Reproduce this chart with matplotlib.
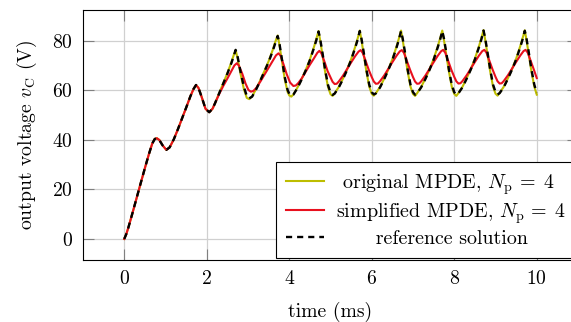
import matplotlib
matplotlib.use("Agg")
import matplotlib.pyplot as plt

# ---------------- data ----------------
x_ticks = [0, 2, 4, 6, 8, 10]
y_ticks = [0, 20, 40, 60, 80]

label_orig = r" original MPDE, $N_\mathrm{p}\,=\;4$"
label_simp = r"simplified MPDE, $N_\mathrm{p}\,=\;4$"
label_ref = "      reference solution"

# time points (ms) of reference solution and original MPDE
t_ref = [
    0.00, 0.05, 0.10, 0.20, 0.30, 0.40, 0.50, 0.60, 0.68, 0.74, 0.79, 0.85, 0.93,
    1.02, 1.10, 1.20, 1.30, 1.40, 1.50, 1.60, 1.68, 1.74, 1.80, 1.88, 1.97,
    2.06, 2.14, 2.20, 2.30, 2.40, 2.50, 2.60, 2.66, 2.70, 2.75, 2.82, 2.90, 2.97,
    3.03, 3.10, 3.20, 3.30, 3.40, 3.50, 3.60, 3.66, 3.72, 3.76, 3.82, 3.89, 3.96,
    4.00, 4.05, 4.10, 4.20, 4.30, 4.40, 4.50, 4.60, 4.66, 4.71, 4.75, 4.80, 4.87, 4.94,
    5.00, 5.05, 5.10, 5.20, 5.30, 5.40, 5.50, 5.60, 5.66, 5.71, 5.75, 5.80, 5.87, 5.94,
    6.00, 6.05, 6.10, 6.20, 6.30, 6.40, 6.50, 6.60, 6.66, 6.71, 6.75, 6.80, 6.87, 6.94,
    7.00, 7.05, 7.10, 7.20, 7.30, 7.40, 7.50, 7.60, 7.66, 7.71, 7.75, 7.80, 7.87, 7.94,
    8.00, 8.05, 8.10, 8.20, 8.30, 8.40, 8.50, 8.60, 8.66, 8.71, 8.75, 8.80, 8.87, 8.94,
    9.00, 9.05, 9.10, 9.20, 9.30, 9.40, 9.50, 9.60, 9.66, 9.71, 9.75, 9.80, 9.87, 9.94,
    10.00,
]

# reference solution (V)
v_ref = [
    0.0, 2.0, 4.6, 10.5, 16.6, 22.6, 28.6, 34.4, 38.6, 40.4, 40.7, 40.0, 37.8,
    36.0, 37.0, 40.2, 44.3, 48.6, 53.0, 57.5, 60.6, 62.2, 61.0, 57.2, 52.6,
    51.2, 52.6, 54.8, 58.8, 62.8, 66.8, 71.2, 74.2, 76.4, 73.5, 67.5, 61.5, 57.8,
    56.8, 57.5, 60.5, 64.0, 67.7, 71.5, 76.0, 79.0, 82.0, 79.2, 73.0, 65.5, 60.2,
    58.7, 57.9, 58.3, 61.0, 64.4, 68.1, 72.2, 77.2, 80.5, 83.8, 80.8, 75.8, 68.3, 62.2,
    59.2, 58.2, 58.7, 61.2, 64.5, 68.2, 72.3, 77.3, 80.6, 84.0, 81.0, 76.0, 68.5, 62.3,
    59.3, 58.4, 58.8, 61.2, 64.5, 68.2, 72.3, 77.3, 80.6, 84.0, 81.0, 76.0, 68.5, 62.3,
    59.3, 58.3, 58.8, 61.3, 64.6, 68.3, 72.4, 77.4, 80.7, 84.0, 81.0, 76.0, 68.5, 62.3,
    59.3, 58.3, 58.8, 61.3, 64.7, 68.4, 72.5, 77.5, 80.8, 84.2, 81.1, 76.1, 68.6, 62.4,
    59.4, 58.4, 58.9, 61.3, 64.7, 68.4, 72.5, 77.5, 80.8, 84.1, 81.1, 76.1, 68.6, 62.4,
    59.0,
]

# original MPDE, Np = 4 (V), same time points
v_orig = [
    0.0, 2.0, 4.6, 10.5, 16.6, 22.6, 28.6, 34.4, 38.6, 40.4, 40.7, 40.0, 37.8,
    36.0, 37.0, 40.2, 44.3, 48.6, 53.0, 57.5, 60.6, 62.2, 61.0, 57.2, 52.6,
    51.2, 52.6, 54.8, 58.9, 63.0, 67.0, 71.5, 74.6, 76.3, 72.8, 66.6, 60.6, 57.0,
    56.5, 57.6, 60.7, 64.2, 67.9, 71.8, 76.4, 79.6, 82.2, 78.6, 72.2, 64.6, 59.4,
    58.0, 57.5, 58.4, 61.2, 64.6, 68.3, 72.5, 77.6, 81.0, 84.0, 80.2, 75.0, 67.5, 61.4,
    58.5, 57.8, 58.8, 61.4, 64.7, 68.4, 72.6, 77.7, 81.1, 84.2, 80.4, 75.2, 67.7, 61.5,
    58.6, 57.9, 58.9, 61.4, 64.7, 68.4, 72.6, 77.7, 81.1, 84.2, 80.4, 75.2, 67.7, 61.5,
    58.6, 57.8, 58.9, 61.5, 64.8, 68.5, 72.7, 77.8, 81.2, 84.2, 80.4, 75.2, 67.7, 61.5,
    58.6, 57.8, 58.9, 61.5, 64.9, 68.6, 72.8, 77.9, 81.3, 84.4, 80.5, 75.3, 67.8, 61.6,
    58.7, 57.9, 59.0, 61.5, 64.9, 68.6, 72.8, 77.9, 81.3, 84.3, 80.5, 75.3, 67.8, 61.6,
    58.3,
]

# simplified MPDE, Np = 4
t_simp = [
    0.00, 0.05, 0.10, 0.20, 0.30, 0.40, 0.50, 0.60, 0.68, 0.74, 0.79, 0.85, 0.93,
    1.02, 1.10, 1.20, 1.30, 1.40, 1.50, 1.60, 1.68, 1.74, 1.80, 1.88, 1.97,
    2.06, 2.14, 2.20, 2.30, 2.40, 2.50, 2.60, 2.67, 2.73, 2.78, 2.86, 2.94,
    3.01, 3.07, 3.13, 3.20, 3.30, 3.40, 3.50, 3.60, 3.68, 3.74, 3.79, 3.86, 3.94,
    4.02, 4.10, 4.16, 4.22, 4.30, 4.40, 4.50, 4.60, 4.68, 4.73, 4.78, 4.85, 4.93,
    5.00, 5.05, 5.10, 5.15, 5.20, 5.30, 5.40, 5.50, 5.60, 5.68, 5.73, 5.78, 5.85, 5.93,
    6.00, 6.05, 6.10, 6.15, 6.20, 6.30, 6.40, 6.50, 6.60, 6.68, 6.73, 6.78, 6.85, 6.93,
    7.00, 7.05, 7.10, 7.15, 7.20, 7.30, 7.40, 7.50, 7.60, 7.68, 7.73, 7.78, 7.85, 7.93,
    8.00, 8.05, 8.10, 8.15, 8.20, 8.30, 8.40, 8.50, 8.60, 8.68, 8.73, 8.78, 8.85, 8.93,
    9.00, 9.05, 9.10, 9.15, 9.20, 9.30, 9.40, 9.50, 9.60, 9.68, 9.73, 9.78, 9.85, 9.93,
    10.00,
]
v_simp = [
    0.0, 2.0, 4.6, 10.5, 16.6, 22.6, 28.6, 34.4, 38.6, 40.4, 40.7, 40.0, 37.8,
    36.0, 37.0, 40.2, 44.3, 48.6, 53.0, 57.5, 60.6, 62.2, 61.0, 57.2, 52.6,
    51.2, 52.6, 54.8, 58.5, 61.8, 64.8, 67.9, 70.1, 71.0, 70.0, 66.8, 62.8,
    60.2, 59.5, 59.8, 61.0, 63.6, 66.4, 69.2, 72.0, 74.2, 75.0, 74.0, 70.6, 66.5,
    63.2, 61.8, 62.0, 63.0, 64.8, 67.6, 70.4, 73.0, 75.2, 76.0, 75.0, 71.8, 67.8,
    65.3, 63.5, 62.6, 62.7, 63.6, 65.9, 68.6, 71.3, 73.9, 75.7, 76.3, 75.2, 72.0, 68.2,
    65.4, 63.6, 62.7, 62.8, 63.7, 66.0, 68.7, 71.4, 74.0, 75.8, 76.3, 75.2, 72.0, 68.3,
    65.4, 63.6, 62.7, 62.8, 63.7, 66.0, 68.7, 71.4, 74.0, 75.8, 76.4, 75.3, 72.1, 68.3,
    65.5, 63.7, 62.8, 62.9, 63.8, 66.1, 68.8, 71.5, 74.1, 75.9, 76.4, 75.3, 72.1, 68.4,
    65.5, 63.7, 62.8, 62.9, 63.8, 66.1, 68.8, 71.5, 74.1, 75.9, 76.4, 75.3, 72.1, 68.4,
    65.0,
]

# ---------------- style ----------------
plt.rcParams['font.family'] = ['cmr10', 'DejaVu Serif']
plt.rcParams['mathtext.fontset'] = 'cm'
plt.rcParams['axes.formatter.use_mathtext'] = True
plt.rcParams['font.size'] = 14.2

fig = plt.figure(figsize=(5.71, 3.22), dpi=100)
ax = fig.add_axes([83 / 571, 62 / 322, 495 / 571, 250 / 322])

ax.plot(t_ref, v_orig, color='#bdbd00', lw=1.5, label=label_orig)
ax.plot(t_simp, v_simp, color='#e8101e', lw=1.5, label=label_simp)
ax.plot(t_ref, v_ref, color='black', lw=1.7, dashes=(2.6, 2.1), label=label_ref)

ax.set_xlim(-1, 11)
ax.set_ylim(-8.5, 92.5)
ax.set_xticks(x_ticks)
ax.set_yticks(y_ticks)
ax.set_axisbelow(True)
ax.grid(True, color='#d0d0d0', lw=0.9)
ax.tick_params(direction='in', length=8, width=0.8, color='#808080',
               top=True, right=True, pad=7)
for s in ax.spines.values():
    s.set_linewidth(0.8)
    s.set_color('black')

ax.set_xlabel('time (ms)', labelpad=10)
ax.set_ylabel(r'output voltage $v_\mathrm{C}$ (V)', labelpad=10)

leg = ax.legend(loc='lower right', bbox_to_anchor=(0.996, 0.008),
                borderaxespad=0, fancybox=False, framealpha=1,
                edgecolor='black', handlelength=1.9, handletextpad=0.6,
                borderpad=0.5, labelspacing=0.22, fontsize=14.4)
leg.get_frame().set_linewidth(0.8)

fig.savefig('out.png', dpi=100)
